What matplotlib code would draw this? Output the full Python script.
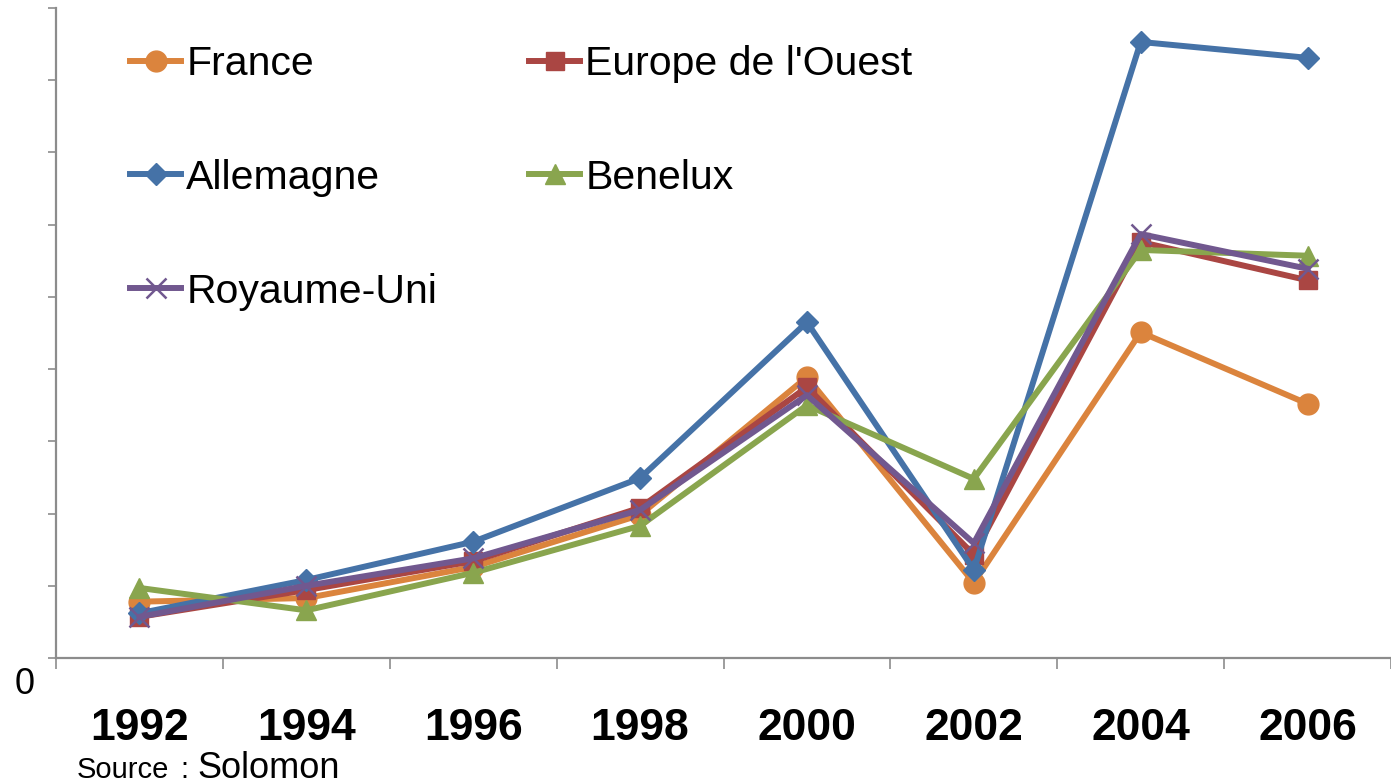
import matplotlib
matplotlib.use("Agg")
from matplotlib import pyplot as plt
import numpy as np

plt.rcParams['font.family'] = ['Liberation Sans', 'DejaVu Sans']

years = ['1992', '1994', '1996', '1998', '2000', '2002', '2004', '2006']

france = [0.78, 0.83, 1.26, 1.98, 3.89, 1.04, 4.51, 3.52]
europe_ouest = [0.57, 0.94, 1.34, 2.08, 3.75, 1.43, 5.76, 5.23]
allemagne = [0.62, 1.08, 1.61, 2.49, 4.65, 1.22, 8.53, 8.31]
benelux = [0.97, 0.66, 1.18, 1.83, 3.50, 2.48, 5.65, 5.57]
royaume_uni = [0.57, 1.00, 1.38, 2.05, 3.64, 1.59, 5.87, 5.39]

W, H = 1391, 784
fig = plt.figure(figsize=(W / 100, H / 100), dpi=100)
ax = fig.add_axes([56 / W, 1 - 658 / H, 1 - 56 / W, 650 / H])

x = np.arange(len(years))
lw = 4.3
lines = {}
lines['France'] = ax.plot(x, france, color='#DB843D', lw=lw, marker='o', ms=15,
                          mec='#DB843D', label='France')[0]
lines['Europe'] = ax.plot(x, europe_ouest, color='#AA4643', lw=lw, marker='s', ms=13,
                          mec='#AA4643', label="Europe de l'Ouest")[0]
lines['Allemagne'] = ax.plot(x, allemagne, color='#4572A7', lw=lw, marker='D', ms=11,
                             mec='#4572A7', label='Allemagne')[0]
lines['Benelux'] = ax.plot(x, benelux, color='#89A54E', lw=lw, marker='^', ms=15,
                           mec='#89A54E', label='Benelux')[0]
lines['RU'] = ax.plot(x, royaume_uni, color='#71588F', lw=lw, marker='x', ms=14,
                      mew=1.8, mec='#71588F', label='Royaume-Uni')[0]

ax.set_xlim(-0.5, len(years) - 0.5)
ax.set_ylim(0, 9)

# axes styling (Excel look)
for s in ['top', 'right']:
    ax.spines[s].set_visible(False)
for s in ['left', 'bottom']:
    ax.spines[s].set_color('#8c8c8c')
    ax.spines[s].set_linewidth(1.6)

ax.set_yticks(np.arange(0, 10))
ax.set_yticklabels([])
ax.tick_params(axis='y', direction='out', length=6, width=1.2, color='#8c8c8c')

ax.set_xticks(x)
ax.set_xticklabels(years, fontsize=32, fontweight='bold')
ax.set_xticks(np.arange(-0.5, len(years)), minor=True)
ax.tick_params(axis='x', which='major', length=0, pad=36)
ax.tick_params(axis='x', which='minor', direction='out', length=8, width=1.2, color='#8c8c8c')

fig.text(25 / W, 1 - 684 / H, '0', fontsize=26, ha='center', va='center')

handles = [lines['France'], lines['Allemagne'], lines['RU'], lines['Europe'], lines['Benelux']]
fig.legend(handles=handles, labels=[h.get_label() for h in handles], ncol=2,
           loc='upper left', bbox_to_anchor=(130 / W, 1 - 45 / H),
           frameon=False, fontsize=29.5, handlelength=1.25, handletextpad=0.12,
           columnspacing=2.25, labelspacing=1.85, borderpad=0, borderaxespad=0)

fig.text(77 / W, 1 - 778 / H, 'Source', fontsize=21, ha='left', va='baseline')
fig.text(180 / W, 1 - 778 / H, ':', fontsize=21, ha='left', va='baseline')
fig.text(197 / W, 1 - 778 / H, 'Solomon', fontsize=26, ha='left', va='baseline')

fig.savefig('out.png', dpi=100)
